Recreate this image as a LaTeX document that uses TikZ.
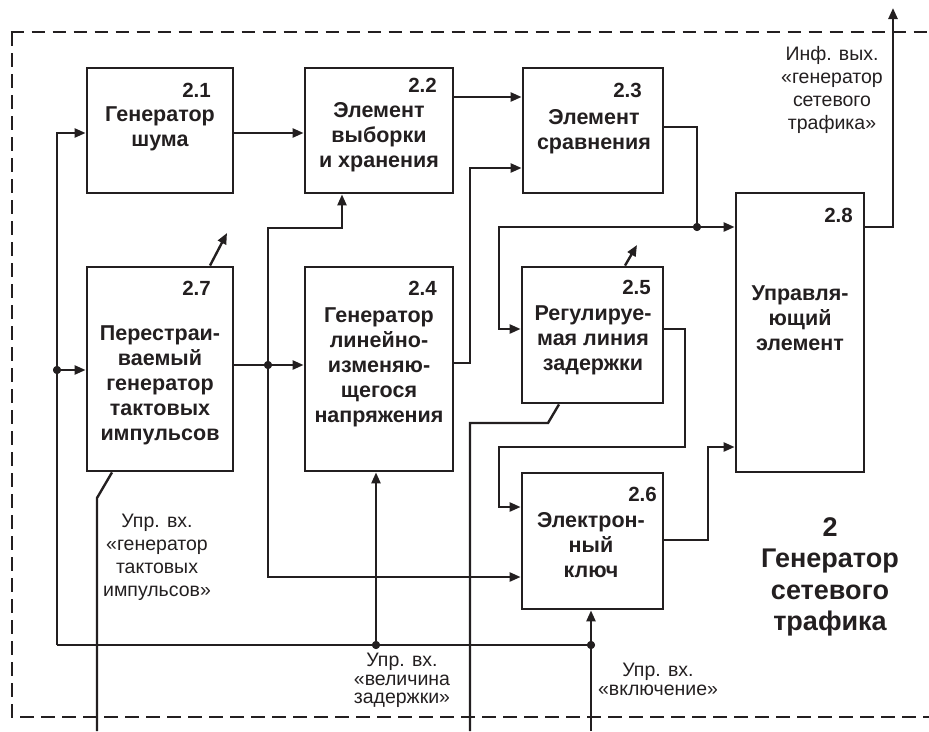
\documentclass[tikz,border=0pt]{standalone}
\usepackage{fontspec}
\setmainfont{Liberation Sans}
\usetikzlibrary{arrows.meta}
\definecolor{ink}{RGB}{35,31,32}

\begin{document}
\begin{tikzpicture}[x=1pt,y=-1pt,
  block/.style={draw=ink, line width=2.8pt, inner sep=0pt},
  wire/.style={draw=ink, line width=2.4pt},
  feed/.style={wire, -{Triangle[length=11pt,width=9pt]}},
  numtext/.style={font=\bfseries\fontsize{20.5}{25}\selectfont, text=ink, inner sep=0pt, anchor=base east},
  boxtext/.style={font=\bfseries\fontsize{21.5}{25}\selectfont, text=ink, inner sep=0pt, align=center, anchor=north},
  labeltext/.style={font=\fontsize{19.5}{23}\selectfont, text=ink, inner sep=0pt, align=center, anchor=north},
  bigtext/.style={font=\bfseries\fontsize{27}{31.5}\selectfont, text=ink, inner sep=0pt, align=center, anchor=north},
  junction/.style={circle, fill=ink, inner sep=0pt, minimum size=8pt},
  border/.style={draw=ink, line width=2.6pt, dash pattern=on 13.5pt off 7.5pt}
]
\useasboundingbox (0,0) rectangle (929,731);

% outer dashed frame, open to the right
\draw[border] (10.7,32) -- (929,32);
\draw[border] (12,32) -- (12,717) -- (929,717);

% blocks
\node[block, minimum width=146pt, minimum height=125pt] (b21) at (160,130.5) {};
\node[block, minimum width=148pt, minimum height=125pt] (b22) at (379,130.5) {};
\node[block, minimum width=140pt, minimum height=125pt] (b23) at (593,130.5) {};
\node[block, minimum width=128pt, minimum height=279pt] (b28) at (800,332.5) {};
\node[block, minimum width=146pt, minimum height=204pt] (b27) at (160,369) {};
\node[block, minimum width=148pt, minimum height=204pt] (b24) at (379,369) {};
\node[block, minimum width=141pt, minimum height=136pt] (b25) at (592.5,335) {};
\node[block, minimum width=141pt, minimum height=136pt] (b26) at (592.5,541) {};

% block numbers
\node[numtext] (n21) at (211,97) {2.1};
\node[numtext] (n22) at (437,92) {2.2};
\node[numtext] (n23) at (642,97) {2.3};
\node[numtext] (n28) at (853,222) {2.8};
\node[numtext] (n27) at (211,295) {2.7};
\node[numtext] (n24) at (437,295) {2.4};
\node[numtext] (n25) at (651,294) {2.5};
\node[numtext] (n26) at (657,501) {2.6};

% block captions
\node[boxtext] (t21) at (160,107) {Генератор\\шума};
\node[boxtext] (t22) at (379,102) {Элемент\\выборки\\и хранения};
\node[boxtext] (t23) at (594,109) {Элемент\\сравнения};
\node[boxtext] (t27) at (160,326) {Перестраи-\\ваемый\\генератор\\тактовых\\импульсов};
\node[boxtext] (t24) at (379,308) {Генератор\\линейно-\\изменяю-\\щегося\\напряжения};
\node[boxtext] (t25) at (593,306) {Регулируе-\\мая линия\\задержки};
\node[boxtext] (t28) at (800,286) {Управля-\\ющий\\элемент};
\node[boxtext] (t26) at (591,512) {Электрон-\\ный\\ключ};

% external labels
\node[labeltext] (lOut) at (832,46) {Инф. вых.\\«генератор\\сетевого\\трафика»};
\node[labeltext] (lClk) at (157,514) {Упр. вх.\\«генератор\\тактовых\\импульсов»};
\node[labeltext, font=\fontsize{19.5}{18.5}\selectfont] (lDel) at (402,653) {Упр. вх.\\«величина\\задержки»};
\node[labeltext, font=\fontsize{19.5}{19}\selectfont] (lOn) at (658,663) {Упр. вх.\\«включение»};
\node[bigtext] (lTitle) at (830,517) {2\\Генератор\\сетевого\\трафика};

% junction points
\node[junction] (j1) at (57,370) {};
\node[junction] (j2) at (268,365) {};
\node[junction] (j3) at (376,645) {};
\node[junction] (j4) at (591,645) {};
\node[junction] (j5) at (697,227) {};

% free ends and bends
\coordinate (cL) at (57,645);
\coordinate (cV) at (268,577);
\coordinate (inOn) at (591,731);
\coordinate (inClk) at (97,731);
\coordinate (inDel) at (470,731);
\coordinate (outTop) at (893,8);
\coordinate (tune1) at (227,233);
\coordinate (tune2) at (637,245);

% control bus along the left and bottom
\draw[feed] (cL) -- (57,133) -- (b21.west |- 0,133);
\draw[feed] (j1) -- (b27.west |- j1);
\draw[wire] (cL) -- (j4);
\draw[feed] (inOn) -- (b26.south -| inOn);
\draw[feed] (j3) -- (b24.south -| j3);

% signal paths
\draw[feed] (b21.east |- 0,133) -- (b22.west |- 0,133);
\draw[feed] (b22.east |- 0,97) -- (b23.west |- 0,97);
\draw[feed] (b27.east |- j2) -- (b24.west |- j2);
\draw[feed] (cV) -- (268,228) -- (342,228) -- (b22.south -| 342,0);
\draw[feed] (j2) -- (cV) -- (b26.west |- cV);
\draw[feed] (b24.east |- 0,363) -- (470,363) -- (470,168) -- (b23.west |- 0,168);
\draw[wire] (b23.east |- 0,127) -| (j5);
\draw[feed] (j5) -- (b28.west |- j5);
\draw[feed] (j5) -- (499,227) -- (499,329) -- (b25.west |- 0,329);
\draw[feed] (b25.east |- 0,329) -- (685,329) -- (685,447) -- (499,447) -- (499,507) -- (b26.west |- 0,507);
\draw[feed] (b26.east |- 0,540) -- (708,540) -- (708,447) -- (b28.west |- 0,447);
\draw[feed] (b28.east |- j5) -| (outTop);

% tuning marks and control inputs through the frame
\draw[feed] (b27.north -| 210,0) -- (tune1);
\draw[feed] (b25.north -| 625,0) -- (tune2);
\draw[wire] (b27.south -| 112,0) -- (97,498) -- (inClk);
\draw[wire] (b25.south -| 559,0) -- (548,423) -- (470,423) -- (inDel);

% redraw junctions on top of the wires
\foreach \j in {j1,j2,j3,j4,j5} \fill[ink] (\j) circle (4pt);
\end{tikzpicture}
\end{document}
